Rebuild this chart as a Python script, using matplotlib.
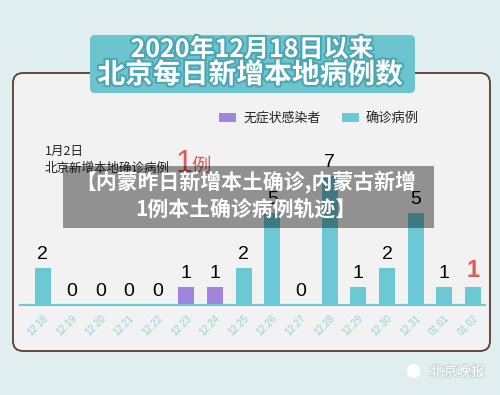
import matplotlib
matplotlib.use("Agg")
import matplotlib.pyplot as plt
import matplotlib.patheffects as pe
from matplotlib.patches import FancyBboxPatch, Rectangle
import numpy as np

plt.rcParams['font.family'] = ['Noto Sans CJK SC', 'DejaVu Sans']

# data
dates = ["12.18", "12.19", "12.20", "12.21", "12.22", "12.23", "12.24", "12.25",
         "12.26", "12.27", "12.28", "12.29", "12.30", "12.31", "01.01", "01.02"]
cases = [2, 0, 0, 0, 0, 1, 1, 2, 5, 0, 7, 1, 2, 5, 1, 1]
kinds = ["c", "c", "c", "c", "c", "a", "a", "c", "c", "c", "c", "c", "c", "c", "c", "c"]

TEAL = "#6cc8d4"
PURPLE = "#a184dd"
TICK = "#92d3db"
BG = "#e1eeef"
PANEL = "#f2f2f2"

W, H = 500, 395
fig = plt.figure(figsize=(W / 100, H / 100), dpi=100)
fig.patch.set_facecolor(BG)

# background layer in pixel coordinates
bg = fig.add_axes([0, 0, 1, 1], zorder=0)
bg.set_xlim(0, W)
bg.set_ylim(H, 0)
bg.axis("off")
bg.add_patch(FancyBboxPatch((13, 73), 477, 278, boxstyle="round,pad=0,rounding_size=10",
                            fc=PANEL, ec="#5b3d2e", lw=1.3))
bg.add_patch(FancyBboxPatch((90, 35), 325, 58, boxstyle="round,pad=0,rounding_size=5",
                            fc="#6cc4cf", ec="none"))
stroke = [pe.withStroke(linewidth=3, foreground="#4aa6b2")]
bg.text(252, 50, "2020年12月18日以来", ha="center", va="center", fontsize=18,
        color="white", fontweight="bold", path_effects=stroke)
bg.text(250, 75, "北京每日新增本地病例数", ha="center", va="center", fontsize=20,
        color="white", fontweight="bold", path_effects=stroke)

# legend
bg.add_patch(Rectangle((219, 113), 17, 9, fc=PURPLE, ec="none"))
bg.text(244, 118, "无症状感染者", ha="left", va="center", fontsize=9.3, color="#222222")
bg.add_patch(Rectangle((342, 113), 17, 9, fc=TEAL, ec="none"))
bg.text(366, 118, "确诊病例", ha="left", va="center", fontsize=9.5, color="#222222")

# annotation
bg.text(45, 151, "1月2日", ha="left", va="center", fontsize=9, color="#222222")
bg.text(45, 168, "北京新增本地确诊病例", ha="left", va="center", fontsize=9, color="#222222")
bg.text(176, 172, "1", ha="left", va="baseline", fontsize=22, color="#e05a5a",
        family="Liberation Sans")
bg.text(191, 172, "例", ha="left", va="baseline", fontsize=14, color="#e05a5a")

# watermark
bg.text(485, 372, "北京晚报", ha="right", va="center", fontsize=10, color="white",
        path_effects=[pe.withStroke(linewidth=1.5, foreground="#c8d4d6")])
bg.text(420, 372, "●", ha="right", va="center", fontsize=11, color="white")

# bar chart
ax = fig.add_axes([20 / W, 90 / H, 465 / W, 166.5 / H], zorder=1)
ax.patch.set_alpha(0)
x = np.arange(len(dates))
colors = [PURPLE if k == "a" else TEAL for k in kinds]
ax.bar(x, cases, width=0.56, color=colors)
ax.set_xlim(-0.8, len(dates) - 1 + 0.42)
ax.set_ylim(0, 9)
for s in ["top", "right", "left"]:
    ax.spines[s].set_visible(False)
ax.spines["bottom"].set_color(TEAL)
ax.spines["bottom"].set_linewidth(1.5)
ax.set_yticks([])
ax.set_xticks(x)
ax.set_xticklabels(dates, rotation=45, ha="right", rotation_mode="anchor",
                   fontsize=7, color=TICK, family="Liberation Sans")
ax.tick_params(axis="x", length=0, pad=6)
for i, v in enumerate(cases):
    last = i == len(cases) - 1
    ax.text(i, v + 0.25, str(v), ha="center", va="bottom",
            fontsize=17 if last else 14, family="Liberation Sans",
            color="#e05a5a" if last else "black",
            fontweight="bold" if last else "normal")

# overlay caption band
fg = fig.add_axes([0, 0, 1, 1], zorder=2)
fg.set_xlim(0, W)
fg.set_ylim(H, 0)
fg.axis("off")
fg.patch.set_alpha(0)
fg.add_patch(Rectangle((63, 166), 371, 62, fc="black", alpha=0.4, ec="none"))
fg.text(246, 182, "【内蒙昨日新增本土确诊,内蒙古新增", ha="center", va="center",
        fontsize=15, color="white", fontweight="bold")
fg.text(246, 209, "1例本土确诊病例轨迹】", ha="center", va="center",
        fontsize=15, color="white", fontweight="bold")

fig.savefig("out.png", dpi=100, facecolor=BG)
